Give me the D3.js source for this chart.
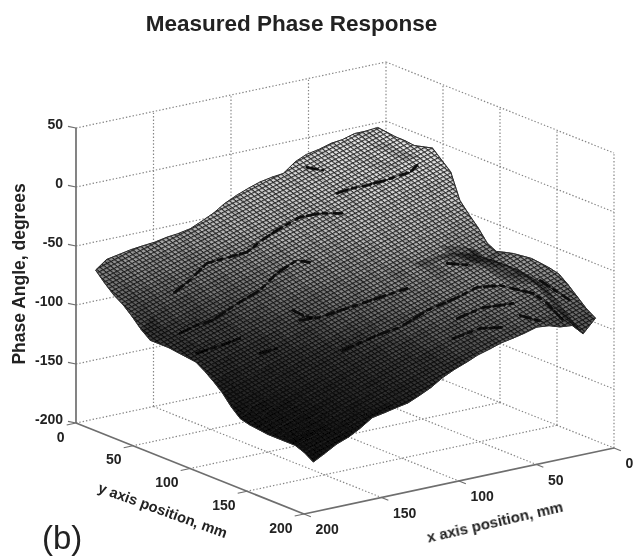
<!DOCTYPE html>
<html>
<head>
<meta charset="utf-8">
<style>
  body { margin: 0; background: #fff; }
  text { font-family: "Liberation Sans", Arial, sans-serif; fill: #222; }
  .bold { font-weight: bold; }
</style>
<script src="https://cdn.jsdelivr.net/npm/d3@7"></script>
</head>
<body>
<div class="container"></div>
<script>
const xTicks = [0, 50, 100, 150, 200];
const yTicks = [0, 50, 100, 150, 200];
const zTicks = [-200, -150, -100, -50, 0, 50];

// sample positions of the surface table, mm
const xSamples = [9, 17, 24, 32, 39, 47, 55, 62, 70, 77, 85, 92, 100, 108, 115, 123, 130, 138, 145, 153, 161, 168, 176, 184, 191];
const ySamples = [5, 13, 21, 29, 37, 45, 53, 61, 69, 77, 85, 93, 101, 109, 116, 124, 132, 140, 148, 156, 164, 172, 180, 188, 196];

// phase in degrees, one row per y sample
const phase = [
  [-1,-2,-2,-5,-6,-9,-11,-15,-23,-24,-26,-29,-33,-38,-44,-49,-53,-55,-56,-58,-59,-60,-62,-64,-71],
  [-2,-3,-3,-6,-8,-11,-13,-17,-25,-27,-29,-32,-36,-41,-47,-52,-57,-59,-61,-63,-65,-66,-69,-71,-79],
  [-3,-6,-6,-8,-10,-13,-15,-20,-28,-30,-32,-35,-40,-44,-50,-56,-61,-63,-65,-68,-70,-72,-75,-78,-86],
  [-3,-6,-6,-9,-11,-14,-17,-22,-30,-32,-36,-39,-43,-48,-53,-59,-64,-67,-69,-72,-74,-77,-80,-83,-91],
  [-4,-7,-7,-10,-12,-16,-19,-24,-32,-35,-39,-42,-46,-51,-56,-62,-67,-70,-73,-76,-78,-81,-84,-88,-98],
  [-2,-7,-7,-10,-12,-16,-20,-26,-34,-38,-42,-45,-49,-54,-60,-66,-71,-74,-77,-80,-83,-86,-90,-96,-106],
  [0,-6,-6,-9,-12,-17,-21,-27,-36,-40,-45,-48,-53,-57,-63,-69,-75,-79,-83,-87,-90,-94,-98,-103,-112],
  [-7,-12,-12,-15,-17,-21,-25,-31,-39,-43,-48,-52,-56,-60,-66,-72,-78,-82,-85,-89,-93,-96,-100,-104,-112],
  [-14,-20,-19,-21,-23,-26,-30,-35,-43,-47,-51,-55,-59,-64,-69,-75,-80,-84,-87,-91,-94,-97,-101,-105,-112],
  [-35,-39,-37,-36,-36,-38,-40,-43,-50,-52,-55,-58,-62,-67,-72,-78,-82,-86,-89,-92,-95,-98,-102,-105,-113],
  [-44,-48,-44,-43,-43,-44,-45,-48,-53,-55,-58,-61,-65,-70,-75,-80,-85,-88,-91,-94,-96,-99,-102,-106,-114],
  [-52,-56,-52,-50,-49,-49,-51,-53,-57,-59,-61,-64,-69,-73,-78,-83,-87,-90,-93,-96,-99,-101,-104,-108,-115],
  [-62,-66,-61,-58,-56,-56,-56,-58,-61,-62,-64,-68,-72,-77,-82,-86,-91,-94,-97,-100,-103,-106,-110,-113,-120],
  [-66,-70,-64,-61,-59,-59,-60,-61,-64,-65,-67,-71,-75,-80,-85,-90,-95,-99,-102,-106,-109,-113,-117,-120,-126],
  [-64,-69,-64,-61,-59,-59,-61,-62,-66,-68,-70,-74,-79,-83,-88,-94,-99,-104,-108,-112,-116,-120,-124,-127,-132],
  [-62,-68,-63,-61,-59,-60,-62,-64,-68,-70,-74,-77,-82,-86,-91,-97,-103,-108,-112,-117,-122,-126,-131,-135,-141],
  [-61,-68,-63,-60,-59,-60,-63,-65,-70,-73,-77,-80,-85,-89,-94,-100,-106,-111,-116,-121,-125,-130,-135,-140,-148],
  [-60,-68,-63,-61,-60,-61,-64,-67,-72,-75,-80,-84,-88,-93,-97,-103,-109,-114,-119,-124,-129,-134,-139,-146,-150],
  [-61,-69,-65,-62,-62,-63,-66,-70,-74,-78,-83,-87,-92,-96,-100,-106,-112,-117,-122,-127,-132,-137,-142,-147,-151],
  [-62,-71,-66,-64,-63,-65,-68,-72,-77,-81,-86,-90,-95,-99,-103,-109,-115,-120,-125,-130,-135,-139,-144,-148,-152],
  [-64,-74,-69,-66,-66,-67,-71,-75,-79,-84,-89,-93,-98,-102,-107,-112,-118,-123,-127,-132,-137,-142,-146,-148,-152],
  [-70,-80,-74,-71,-70,-72,-75,-78,-83,-87,-92,-96,-100,-105,-110,-115,-120,-124,-129,-133,-139,-144,-147,-149,-152],
  [-77,-87,-81,-77,-75,-76,-80,-82,-86,-90,-94,-98,-103,-108,-113,-118,-122,-126,-130,-134,-140,-145,-146,-149,-152],
  [-84,-94,-87,-84,-82,-82,-85,-87,-90,-93,-96,-101,-105,-110,-116,-120,-125,-128,-131,-134,-140,-146,-149,-151,-155],
  [-89,-100,-91,-90,-87,-86,-89,-91,-93,-96,-99,-103,-107,-112,-118,-123,-127,-129,-131,-133,-140,-145,-149,-155,-160]
];

// dark creases seen on the surface, one list per crease
const creaseX = [
  [166,154.5,139.9,130.5,119.1,107.7,97.1,82.1,72.5,63.6],
  [56.4,48.2,41,31.6,23.5,18.1,12.1],
  [55.7,50.9],
  [183.4,173.2,164.6,149,132.2,117.5,103.6,99.5],
  [186.4,170.1,162.6],
  [162,153.1],
  [128.8,127.1,123.3],
  [128.5,108.2,95.5,77,59.2,46.7,36.9,27.9,27.2,29.1],
  [130.9,121.8,105.3,89,74.3],
  [69.1,53.9,40.4],
  [80.2,65,55.6],
  [47,37.9],
  [43.4,37],
  [19,16.9]
];
const creaseY = [
  [40.3,37.9,33,36.1,39.9,37.5,36.3,36,40.5,48.6],
  [33.6,35.7,39,42.1,44.2,45.8,43.8],
  [6.3,13.9],
  [68.6,69.3,71.8,69.8,69,64,62.6,68.5],
  [87.3,91.5,92.9],
  [109.5,112.3],
  [93.4,101.6,107.1],
  [136.8,139.1,142.1,140.6,142.9,143.4,150.2,167,178.3,195],
  [102.4,107.4,111.6,115.8,119.5],
  [156.4,158.4,166.4],
  [167.9,170.9,178.4],
  [117.4,127.9],
  [176.6,189.9],
  [161.1,184.5]
];
const creaseZ = [
  [-83.2,-77.2,-68.7,-65.9,-62.5,-56.5,-51.4,-44.7,-42.4,-41.7],
  [-32.5,-29.8,-28,-25.2,-22.4,-20.7,-17.3],
  [-21.2,-22.2],
  [-102.1,-98,-95.1,-87.6,-79.9,-71.5,-64.9,-65.5],
  [-111.1,-105.6,-102.8],
  [-109.4,-106.5],
  [-88.4,-90.9,-91.4],
  [-105.7,-97.7,-93.4,-84.8,-77.9,-72.6,-71.1,-73.9,-78.2,-85.7],
  [-92.8,-90.9,-85.4,-79.9,-75],
  [-87.7,-81.9,-79.1],
  [-97.1,-91.7,-90.6],
  [-62.2,-62.5],
  [-84.6,-87.2],
  [-67.7,-76.2]
];

// oblique view of the box, pixel span of each axis
const xSx = d3.scaleLinear().domain([0, 200]).range([386, 76]);
const xSy = d3.scaleLinear().domain([0, 200]).range([0, 66]);
const ySx = d3.scaleLinear().domain([0, 200]).range([0, 228]);
const ySy = d3.scaleLinear().domain([0, 200]).range([0, 91]);
const zSy = d3.scaleLinear().domain([-200, 50]).range([357, 62]);

const project = function (x, y, z) {
  return [xSx(x) + ySx(y), zSy(z) + xSy(x) + ySy(y)];
};

const gridStyle = function (sel) {
  sel.attr('fill', 'none')
    .attr('stroke', '#858585')
    .attr('stroke-width', 1.2)
    .attr('stroke-dasharray', '1.4 2');
};

const segment = function (g, a, b) {
  return g.append('line')
    .attr('x1', a[0]).attr('y1', a[1])
    .attr('x2', b[0]).attr('y2', b[1]);
};

const drawGrid = function (svg) {
  const g = svg.append('g').attr('filter', 'url(#soft)');
  zTicks.forEach(z => {
    gridStyle(segment(g, project(200, 0, z), project(0, 0, z)));
    gridStyle(segment(g, project(0, 0, z), project(0, 200, z)));
  });
  xTicks.slice(0, 4).forEach(x => {
    gridStyle(segment(g, project(x, 0, -200), project(x, 0, 50)));
  });
  yTicks.slice(1).forEach(y => {
    gridStyle(segment(g, project(0, y, -200), project(0, y, 50)));
  });
  xTicks.slice(1, 4).forEach(x => {
    gridStyle(segment(g, project(x, 0, -200), project(x, 200, -200)));
  });
  yTicks.slice(1, 4).forEach(y => {
    gridStyle(segment(g, project(0, y, -200), project(200, y, -200)));
  });
};

const drawAxes = function (svg) {
  const g = svg.append('g')
    .attr('stroke', '#6e6e6e')
    .attr('stroke-width', 1.7)
    .attr('filter', 'url(#soft)');
  const labels = svg.append('g').attr('filter', 'url(#soft)');
  segment(g, project(200, 0, -200), project(200, 0, 50));
  segment(g, project(200, 0, -200), project(200, 200, -200));
  segment(g, project(200, 200, -200), project(0, 200, -200));
  zTicks.forEach(z => {
    const p = project(200, 0, z);
    segment(g, p, [p[0] - 8, p[1] - 1.7]).attr('stroke-width', 1.2);
    labels.append('text').attr('class', 'bold')
      .attr('x', p[0] - 13).attr('y', p[1] + 1)
      .attr('text-anchor', 'end').attr('font-size', 14)
      .text(z);
  });
  yTicks.forEach(y => {
    const p = project(200, y, -200);
    segment(g, p, project(206, y, -200)).attr('stroke-width', 1.2);
    labels.append('text').attr('class', 'bold')
      .attr('x', p[0] - 11.5).attr('y', p[1] + 18.5)
      .attr('text-anchor', 'end').attr('font-size', 14)
      .text(y);
  });
  xTicks.forEach(x => {
    const p = project(x, 200, -200);
    segment(g, p, project(x, 206, -200)).attr('stroke-width', 1.2);
    labels.append('text').attr('class', 'bold')
      .attr('x', p[0] + 11.5).attr('y', p[1] + 20)
      .attr('text-anchor', 'start').attr('font-size', 14)
      .text(x);
  });
};

const drawSurface = function (svg, defs) {
  // mesh colour follows height, like a gray colormap
  const levels = d3.range(32);
  const toLevel = d3.scaleQuantize().domain([-175, 0]).range(levels);
  const lineGray = d3.scaleLinear().domain([-175, -140, -105, -85, -50, 0]).range([5, 6, 12, 24, 40, 50]);
  const holeGray = d3.scaleLinear().domain([-175, -140, -105, -85, -50, 0]).range([10, 26, 62, 108, 185, 235]);
  const tile = 8;
  const a = [-3.7 / tile, 1.9 / tile];
  const b = [3.3 / tile, 2.6 / tile];
  levels.forEach(k => {
    const z = d3.mean(toLevel.invertExtent(k));
    const l = lineGray(z);
    const h = holeGray(z);
    const p = defs.append('pattern')
      .attr('id', 'mesh' + k)
      .attr('patternUnits', 'userSpaceOnUse')
      .attr('width', tile).attr('height', tile)
      .attr('patternTransform', `matrix(${a[0]} ${a[1]} ${b[0]} ${b[1]} 0 0)`);
    p.append('rect').attr('width', tile).attr('height', tile)
      .attr('fill', d3.rgb(l, l, l));
    p.append('rect').attr('x', 2.3).attr('y', 2.3).attr('width', tile - 2.3).attr('height', tile - 2.3)
      .attr('fill', d3.rgb(h, h, h));
  });

  const g = svg.append('g').attr('filter', 'url(#fine)');
  const line = d3.line();
  const nodes = phase.map((row, j) => row.map((z, i) => project(xSamples[i], ySamples[j], z)));
  for (let j = 0; j < ySamples.length - 1; j++) {
    for (let i = 0; i < xSamples.length - 1; i++) {
      const quad = [nodes[j][i], nodes[j][i + 1], nodes[j + 1][i + 1], nodes[j + 1][i]];
      const zMean = d3.mean([phase[j][i], phase[j][i + 1], phase[j + 1][i + 1], phase[j + 1][i]]);
      // cells seen at a flat angle pack their lines together and read darker
      const squeeze = Math.min(1, Math.abs(d3.polygonArea(quad)) / 110);
      const k = Math.max(0, toLevel(zMean - (1 - squeeze) * 70));
      g.append('path')
        .attr('d', line(quad) + 'Z')
        .attr('fill', `url(#mesh${k})`)
        .attr('stroke', `url(#mesh${k})`)
        .attr('stroke-width', 0.7);
    }
  }
  // ribs running along y
  xSamples.forEach((x, i) => {
    g.append('path')
      .attr('d', line(nodes.map(r => r[i])))
      .attr('fill', 'none')
      .attr('stroke', '#000')
      .attr('stroke-opacity', 0.22)
      .attr('stroke-width', 1.1);
  });
  // creases, a thin line under broken heavy strokes
  creaseX.forEach((xs, c) => {
    const pts = xs.map((x, n) => project(x, creaseY[c][n], creaseZ[c][n]));
    g.append('path')
      .attr('d', line(pts))
      .attr('fill', 'none')
      .attr('stroke', '#111')
      .attr('stroke-opacity', 0.6)
      .attr('stroke-width', 1.2);
    g.append('path')
      .attr('d', line(pts))
      .attr('fill', 'none')
      .attr('stroke', '#050505')
      .attr('stroke-opacity', 0.9)
      .attr('stroke-width', 2.8)
      .attr('stroke-linecap', 'round')
      .attr('stroke-dasharray', '11 5 4 7 8 4');
  });
  // outer edge of the mesh
  const edge = nodes[0].concat(nodes.map(r => r[r.length - 1]), nodes[nodes.length - 1].slice().reverse(), nodes.map(r => r[0]).reverse());
  g.append('path')
    .attr('d', line(edge) + 'Z')
    .attr('fill', 'none')
    .attr('stroke', '#2c2c2c')
    .attr('stroke-width', 1);
};

const drawLabels = function (svg) {
  const g = svg.append('g').attr('filter', 'url(#soft)');
  g.append('text').attr('class', 'bold')
    .attr('x', 291.5).attr('y', 31)
    .attr('text-anchor', 'middle').attr('font-size', 22.5)
    .text('Measured Phase Response');
  g.append('text').attr('class', 'bold')
    .attr('transform', 'translate(25,274) rotate(-90)')
    .attr('text-anchor', 'middle').attr('font-size', 17.5)
    .text('Phase Angle, degrees');
  g.append('text').attr('class', 'bold')
    .attr('transform', 'translate(161,515) rotate(20)')
    .attr('text-anchor', 'middle').attr('font-size', 14.7)
    .text('y axis position, mm');
  g.append('text').attr('class', 'bold')
    .attr('transform', 'translate(496,527) rotate(-13)')
    .attr('text-anchor', 'middle').attr('font-size', 15)
    .text('x axis position, mm');
  g.append('text')
    .attr('x', 42).attr('y', 549)
    .attr('font-size', 33)
    .text('(b)');
};

const display = function () {
  const svg = d3.select('.container').append('svg')
    .attr('width', 634)
    .attr('height', 558)
    .style('display', 'block');
  const defs = svg.append('defs');
  defs.append('filter').attr('id', 'soft')
    .attr('x', '-5%').attr('y', '-5%').attr('width', '110%').attr('height', '110%')
    .append('feGaussianBlur').attr('stdDeviation', 0.5);
  defs.append('filter').attr('id', 'fine')
    .attr('x', '-5%').attr('y', '-5%').attr('width', '110%').attr('height', '110%')
    .append('feGaussianBlur').attr('stdDeviation', 0.35);
  drawGrid(svg);
  drawAxes(svg);
  drawSurface(svg, defs);
  drawLabels(svg);
};

window.onload = display;
</script>
</body>
</html>
